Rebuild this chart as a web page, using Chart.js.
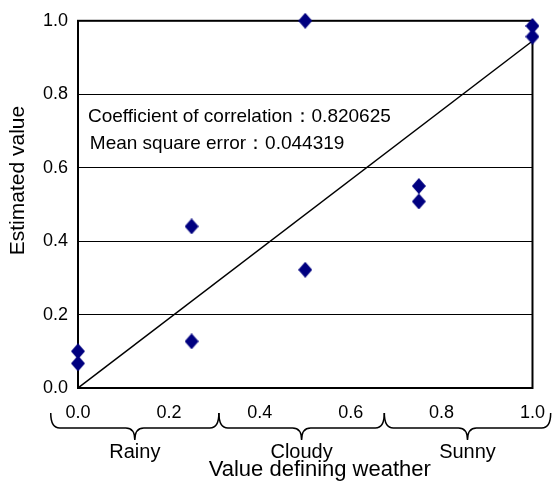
<!DOCTYPE html>
<html><head><meta charset="utf-8">
<script src="https://cdn.jsdelivr.net/npm/chart.js@4"></script>
<style>html,body{margin:0;padding:0;background:#fff}</style>
</head><body><canvas id="c" width="559" height="494" style="width:559px;height:494px"></canvas>
<script>
// ---- data ----
const weatherValues   = [0, 0, 0.25, 0.25, 0.5, 0.5, 0.75, 0.75, 1.0, 1.0];
const estimatedValues = [0.100, 0.067, 0.440, 0.127, 1.000, 0.322, 0.550, 0.508, 0.986, 0.957];
const fitLineX = [0, 1];
const fitLineY = [0, 0.945];
const tickValues = [0, 0.2, 0.4, 0.6, 0.8, 1.0];
const weatherCategories = ['Rainy', 'Cloudy', 'Sunny'];
const categoryBounds = [[-0.06, 0.31], [0.31, 0.674], [0.674, 1.04]];
const statLabels = ['Coefficient of correlation：0.820625', 'Mean square error：0.044319'];
const yAxisTitle = 'Estimated value';
const xAxisTitle = 'Value defining weather';

const FONT = '"Liberation Sans", Arial, sans-serif';

// diamond marker
const diamond = document.createElement('canvas');
diamond.width = 14; diamond.height = 16;
(function(){
  const g = diamond.getContext('2d');
  g.fillStyle = '#000080';
  g.beginPath();
  g.moveTo(7, 0); g.lineTo(14, 8); g.lineTo(7, 16); g.lineTo(0, 8); g.closePath();
  g.fill();
})();

const decor = {
  id: 'decor',
  beforeDatasetsDraw(chart) {
    const {ctx, chartArea: a} = chart;
    ctx.save();
    ctx.strokeStyle = '#000';
    ctx.lineWidth = 2;
    ctx.strokeRect(a.left, a.top, a.right - a.left, a.bottom - a.top);
    const xs = chart.scales.x, ys = chart.scales.y;
    ctx.fillStyle = '#000';
    // statistics text
    ctx.font = '19px ' + FONT;
    ctx.textBaseline = 'middle';
    ctx.textAlign = 'left';
    ctx.fillText(statLabels[0], xs.getPixelForValue(0.022), ys.getPixelForValue(0.74));
    ctx.fillText(statLabels[1], xs.getPixelForValue(0.026), ys.getPixelForValue(0.664));
    // y axis title
    ctx.save();
    ctx.translate(18, ys.getPixelForValue(0.565));
    ctx.rotate(-Math.PI / 2);
    ctx.textAlign = 'center';
    ctx.font = '21px ' + FONT;
    ctx.fillText(yAxisTitle, 0, 0);
    ctx.restore();
    ctx.restore();
  },
  afterDraw(chart) {
    const {ctx, chartArea: a} = chart;
    const xs = chart.scales.x;
    ctx.save();
    ctx.strokeStyle = '#000';
    ctx.lineWidth = 1.5;
    const yTop = a.bottom + 25, yFlat = a.bottom + 40, yTip = a.bottom + 52, r = 9;
    weatherCategories.forEach((name, i) => {
      const x0 = xs.getPixelForValue(categoryBounds[i][0]);
      const x1 = xs.getPixelForValue(categoryBounds[i][1]);
      const xm = (x0 + x1) / 2;
      ctx.beginPath();
      ctx.moveTo(x0, yTop);
      ctx.quadraticCurveTo(x0, yFlat, x0 + r, yFlat);
      ctx.lineTo(xm - r, yFlat);
      ctx.quadraticCurveTo(xm, yFlat, xm, yTip);
      ctx.quadraticCurveTo(xm, yFlat, xm + r, yFlat);
      ctx.lineTo(x1 - r, yFlat);
      ctx.quadraticCurveTo(x1, yFlat, x1, yTop);
      ctx.stroke();
      ctx.fillStyle = '#000';
      ctx.font = '20px ' + FONT;
      ctx.textAlign = 'center';
      ctx.textBaseline = 'middle';
      ctx.fillText(name, xm, a.bottom + 64);
    });
    // x axis title
    ctx.fillStyle = '#000';
    ctx.font = '22px ' + FONT;
    ctx.textAlign = 'center';
    ctx.textBaseline = 'middle';
    ctx.fillText(xAxisTitle, xs.getPixelForValue(0.532), a.bottom + 82);
    ctx.restore();
  }
};

new Chart(document.getElementById('c'), {
  type: 'scatter',
  data: {
    datasets: [
      {
        type: 'line',
        label: 'Fit',
        data: fitLineX.map((x, i) => ({x, y: fitLineY[i]})),
        borderColor: '#000',
        borderWidth: 1.5,
        pointRadius: 0,
        fill: false,
        order: 2
      },
      {
        label: 'Estimated value',
        data: weatherValues.map((x, i) => ({x, y: estimatedValues[i]})),
        pointStyle: diamond,
        pointRadius: 8,
        clip: false,
        order: 1
      }
    ]
  },
  options: {
    responsive: false,
    animation: false,
    devicePixelRatio: 1,
    layout: {padding: {top: 19, right: 21, left: 0, bottom: 0}},
    plugins: {legend: {display: false}, tooltip: {enabled: false}},
    scales: {
      x: {
        type: 'linear', min: 0, max: 1,
        afterBuildTicks: s => { s.ticks = tickValues.map(v => ({value: v})); },
        afterFit: s => { s.height = 106; },
        grid: {display: false, drawTicks: false},
        border: {display: true, color: '#000', width: 2},
        ticks: {color: '#000', font: {family: FONT, size: 18}, padding: 14, maxRotation: 0, autoSkip: false,
          callback: v => v.toFixed(1)},
        title: {display: false}
      },
      y: {
        type: 'linear', min: 0, max: 1,
        afterBuildTicks: s => { s.ticks = tickValues.map(v => ({value: v})); },
        afterFit: s => { s.width = 78; },
        grid: {color: '#000', lineWidth: 1, drawTicks: false},
        border: {display: true, color: '#000', width: 2},
        ticks: {color: '#000', font: {family: FONT, size: 18}, padding: 10,
          callback: v => v.toFixed(1)},
        title: {display: false}
      }
    }
  },
  plugins: [decor]
});
</script>
</body></html>
